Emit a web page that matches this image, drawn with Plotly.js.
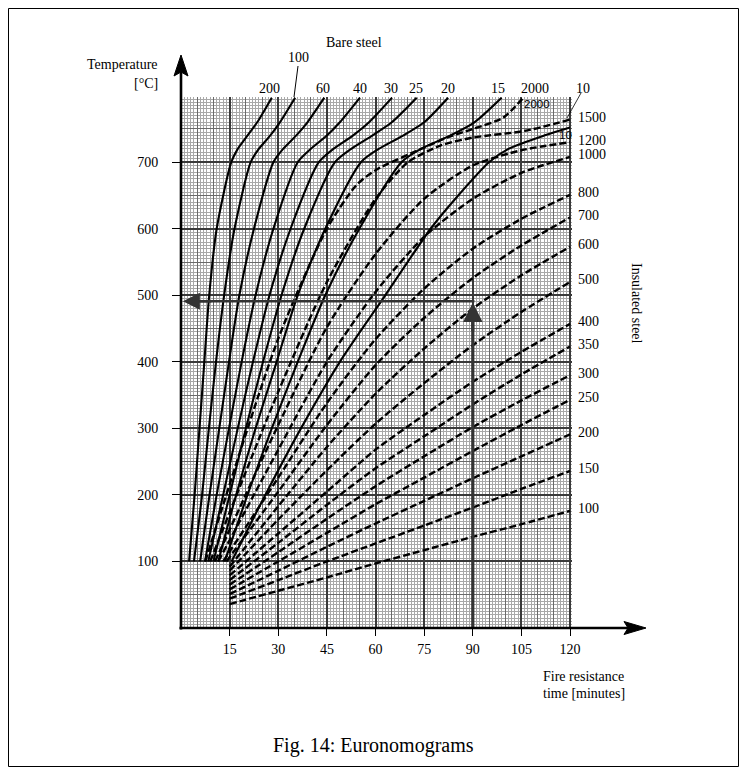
<!DOCTYPE html>
<html><head><meta charset="utf-8">
<script src="https://cdn.plot.ly/plotly-3.0.1.min.js"></script>
<style>html,body{margin:0;padding:0;background:#fff;} #chart{width:746px;height:774px;}</style>
</head><body><div id="chart"></div>
<script>
// ---------- DATA ----------
const xTickValues = [15, 30, 45, 60, 75, 90, 105, 120];
const yTickValues = [100, 200, 300, 400, 500, 600, 700];

// Bare steel (solid) curves: minutes at which each temperature level is reached
const bareFactors = ['200', '100', '60', '40', '30', '25', '20', '15'];
const bareTempLevels = [100, 200, 300, 400, 500, 600, 700, 720, 740, 760, 797];
const bare200Minutes = [2.5, 4.2, 5.7, 7.2, 8.7, 11.0, 15.5, 17.5, 20.5, 23.5, 28.0];
const bare100Minutes = [4.0, 6.5, 8.6, 10.8, 13.3, 16.5, 21.5, 24.0, 27.5, 30.5, 35.2];
const bare60Minutes  = [5.9, 8.8, 11.8, 14.8, 18.0, 22.5, 28.5, 31.5, 35.5, 39.0, 44.2];
const bare40Minutes  = [7.4, 11.0, 14.8, 18.7, 23.0, 28.5, 36.0, 40.0, 45.0, 49.0, 55.2];
const bare30Minutes  = [8.4, 13.0, 17.5, 22.2, 27.3, 33.8, 42.5, 47.0, 53.0, 58.0, 65.1];
const bare25Minutes  = [10.0, 15.0, 20.0, 25.3, 31.0, 38.0, 47.5, 52.5, 59.0, 65.0, 72.7];
const bare20Minutes  = [11.5, 17.0, 23.0, 29.5, 36.0, 44.5, 55.5, 61.0, 68.5, 75.0, 82.4];
const bare15Minutes  = [13.5, 20.5, 28.0, 36.0, 44.5, 55.0, 68.0, 74.0, 83.0, 90.5, 98.9];
const bare10Temps    = [100, 200, 300, 400, 500, 600, 650, 700, 720, 740, 752];
const bare10Minutes  = [15.6, 26.0, 37.0, 49.0, 63.0, 77.0, 85.5, 95.0, 101.0, 112.0, 120.0];

// Insulated steel (dashed) curves
const insulMinutes = [15, 30, 45, 60, 75, 90, 105, 120];
const insul100Temp = [36, 56, 76, 97, 117, 137, 156, 176];
const insul150Temp = [44, 72, 100, 127, 154, 181, 209, 236];
const insul200Temp = [51, 86, 122, 157, 191, 225, 258, 291];
const insul250Temp = [58, 100, 143, 186, 226, 266, 305, 343];
const insul300Temp = [65, 114, 164, 213, 258, 302, 342, 380];
const insul350Temp = [72, 128, 185, 240, 288, 336, 381, 423];
const insul400Temp = [79, 142, 205, 268, 320, 370, 415, 457];
const insul500Temp = [86, 163, 237, 307, 368, 425, 475, 520];
const insul600Temp = [92, 183, 272, 352, 420, 480, 530, 573];
const insul700Minutes = [14, 30, 45, 60, 75, 90, 105, 120];
const insul700Temp    = [100, 205, 305, 395, 466, 526, 575, 617];
const insul800Minutes = [13, 30, 45, 60, 75, 90, 105, 120];
const insul800Temp    = [100, 226, 338, 434, 510, 570, 615, 651];
const insul1000Minutes = [11.5, 30, 45, 60, 75, 90, 105, 120];
const insul1000Temp    = [100, 268, 400, 505, 588, 645, 684, 708];
const insul1200Minutes = [10.5, 30, 45, 60, 75, 90, 105, 120];
const insul1200Temp    = [100, 305, 452, 562, 645, 695, 718, 730];
const insul1500Minutes = [9, 30, 45, 60, 70, 80, 90, 106, 120];
const insul1500Temp    = [100, 355, 520, 645, 700, 725, 737, 747, 764];
const insul2000Minutes = [7.5, 30, 45, 54, 60, 75, 82, 90, 99.4, 105.6];
const insul2000Temp    = [100, 435, 600, 665, 688, 722, 737, 750, 767, 797];

const insulFactors = ['100','150','200','250','300','350','400','500','600','700','800','1000','1200','1500'];

// Worked example: 90 minutes -> 491 °C
const exampleMinutes = 90;
const exampleTemp = 491;

// ---------- LAYOUT HELPERS (pixel -> paper) ----------
const PL = 181, PR = 572, PT = 97, PB = 628;
const X = p => (p - PL) / (PR - PL);
const Y = p => (PB - p) / (PB - PT);
const XR = [0, 120.6], YR = [0, 798];

const serif = '"Liberation Serif", "Times New Roman", Times, serif';
const sans = '"Liberation Sans", Arial, sans-serif';

const traces = [];
traces.push({x: [], y: [], xaxis: 'x2', yaxis: 'y2', type: 'scatter', hoverinfo: 'skip', showlegend: false});
traces.push({x: [], y: [], xaxis: 'x3', yaxis: 'y3', type: 'scatter', hoverinfo: 'skip', showlegend: false});

const bareMinutes = [bare200Minutes, bare100Minutes, bare60Minutes, bare40Minutes, bare30Minutes, bare25Minutes, bare20Minutes, bare15Minutes];
bareMinutes.forEach(m => traces.push({
  x: m, y: bareTempLevels, type: 'scatter', mode: 'lines',
  line: {color: '#000', width: 2.1, shape: 'spline', smoothing: 0.7},
  hoverinfo: 'skip', showlegend: false
}));
traces.push({x: bare10Minutes, y: bare10Temps, type: 'scatter', mode: 'lines',
  line: {color: '#000', width: 2.1, shape: 'spline', smoothing: 0.7}, hoverinfo: 'skip', showlegend: false});

const insulSeries = [
  [insulMinutes, insul100Temp], [insulMinutes, insul150Temp], [insulMinutes, insul200Temp],
  [insulMinutes, insul250Temp], [insulMinutes, insul300Temp], [insulMinutes, insul350Temp],
  [insulMinutes, insul400Temp], [insulMinutes, insul500Temp], [insulMinutes, insul600Temp],
  [insul700Minutes, insul700Temp], [insul800Minutes, insul800Temp], [insul1000Minutes, insul1000Temp],
  [insul1200Minutes, insul1200Temp], [insul1500Minutes, insul1500Temp], [insul2000Minutes, insul2000Temp]
];
insulSeries.forEach(s => traces.push({
  x: s[0], y: s[1], type: 'scatter', mode: 'lines',
  line: {color: '#000', width: 2.4, dash: '7px,3px', shape: 'spline', smoothing: 0.7},
  hoverinfo: 'skip', showlegend: false
}));

traces.push({x: [exampleMinutes, exampleMinutes], y: [0, exampleTemp - 8], type: 'scatter', mode: 'lines',
  line: {color: '#333', width: 3.2}, hoverinfo: 'skip', showlegend: false});
traces.push({x: [exampleMinutes + 0.5, 2], y: [exampleTemp, exampleTemp], type: 'scatter', mode: 'lines',
  line: {color: '#333', width: 2.6}, hoverinfo: 'skip', showlegend: false});

// grid positions: fine (1 min / 5 °C), medium (5 min / 50 °C), major (15 min / 100 °C)
const fineX = [], fineY = [], midX = [], midY = [], majX = [], majY = [];
for (let v = 1; v <= 120; v++) { if (v % 15 === 0) majX.push(v); else if (v % 5 === 0) midX.push(v); else fineX.push(v); }
for (let v = 5; v <= 795; v += 5) { if (v % 100 === 0) majY.push(v); else if (v % 50 === 0) midY.push(v); else fineY.push(v); }

const annotations = [];
function txt(text, x, y, opts) {
  annotations.push(Object.assign({text: text, x: x, y: y, xref: 'paper', yref: 'paper', showarrow: false,
    font: {family: serif, size: 14, color: '#000'}, xanchor: 'center', yanchor: 'middle'}, opts || {}));
}
txt('Temperature', X(160), Y(64), {xanchor: 'right'});
txt('[°C]', X(160), Y(84), {xanchor: 'right'});
txt('Bare steel', X(354), Y(42));
txt('Fire resistance', X(541), Y(676), {xanchor: 'left'});
txt('time [minutes]', X(541), Y(693), {xanchor: 'left'});
txt('Insulated steel', X(637), Y(303), {textangle: 90});
txt('Fig. 14: Euronomograms', X(373), Y(745), {font: {family: serif, size: 20, color: '#000'}});

const topLabels = ['200', '60', '40', '30', '25', '20', '15', '2000', '10'];
const topLabelPx = [269, 323, 360, 391, 416, 448, 497.5, 535, 583];
topLabels.forEach((t, i) => txt(t, X(topLabelPx[i]), Y(88)));
txt('100', X(298), Y(58));
txt('2000', X(537), Y(104), {font: {family: sans, size: 11.5, color: '#000'}});
txt('10', X(565), Y(135), {font: {family: sans, size: 11.5, color: '#000'}});

const insulEnds = [insul100Temp, insul150Temp, insul200Temp, insul250Temp, insul300Temp, insul350Temp,
  insul400Temp, insul500Temp, insul600Temp, insul700Temp, insul800Temp, insul1000Temp, insul1200Temp, insul1500Temp];
insulFactors.forEach((f, i) => {
  const arr = insulEnds[i];
  annotations.push({text: f, x: X(576), xref: 'paper', y: arr[arr.length - 1] + 3, yref: 'y', showarrow: false,
    xanchor: 'left', yanchor: 'middle', font: {family: serif, size: 14, color: '#000'}});
});

annotations.push({x: exampleMinutes, y: exampleTemp - 2, xref: 'x', yref: 'y', text: '', showarrow: true,
  ax: 0, ay: 30, arrowhead: 2, arrowsize: 1.3, arrowwidth: 3, arrowcolor: '#333', standoff: 0});
annotations.push({x: 0.6, y: exampleTemp, xref: 'x', yref: 'y', text: '', showarrow: true,
  ax: 30, ay: 0, arrowhead: 2, arrowsize: 1.3, arrowwidth: 2.6, arrowcolor: '#333', standoff: 0});

const shapes = [
  {type: 'rect', xref: 'paper', yref: 'paper', x0: X(8.5), x1: X(738.5), y0: Y(766.5), y1: Y(8.5), line: {color: '#000', width: 1}},
  {type: 'line', xref: 'paper', yref: 'paper', x0: X(181), x1: X(181), y0: Y(629.5), y1: Y(70), line: {color: '#000', width: 2.6}},
  {type: 'line', xref: 'paper', yref: 'paper', x0: X(179.5), x1: X(630), y0: Y(628), y1: Y(628), line: {color: '#000', width: 2.6}},
  {type: 'path', xref: 'paper', yref: 'paper', path: `M ${X(181)} ${Y(55)} L ${X(174)} ${Y(76)} L ${X(181)} ${Y(72)} L ${X(188)} ${Y(76)} Z`, fillcolor: '#000', line: {color: '#000', width: 1}},
  {type: 'path', xref: 'paper', yref: 'paper', path: `M ${X(646)} ${Y(628)} L ${X(624)} ${Y(621.5)} L ${X(628)} ${Y(628)} L ${X(624)} ${Y(634.5)} Z`, fillcolor: '#000', line: {color: '#000', width: 1}},
  {type: 'line', xref: 'paper', yref: 'paper', x0: X(298), x1: X(294), y0: Y(66), y1: Y(97), line: {color: '#000', width: 1}},
  {type: 'line', xref: 'paper', yref: 'paper', x0: X(581), x1: X(567), y0: Y(93), y1: Y(118), line: {color: '#000', width: 0.8}}
];

const gridAxis = (vals, color, width, extra) => Object.assign({tickmode: 'array', tickvals: vals,
  showticklabels: false, ticks: '', showgrid: true, gridcolor: color, gridwidth: width,
  zeroline: false, showline: false, fixedrange: true}, extra);

const layout = {
  width: 746, height: 774,
  margin: {l: PL, r: 746 - PR, t: PT, b: 774 - PB, pad: 0},
  paper_bgcolor: '#fff', plot_bgcolor: '#fff', showlegend: false,
  font: {family: serif, size: 14, color: '#000'},
  xaxis: {range: XR, tickmode: 'array', tickvals: xTickValues, ticktext: xTickValues.map(String),
    ticks: 'outside', ticklen: 7, tickwidth: 1, tickcolor: '#000', ticklabelstandoff: 1,
    showgrid: false, zeroline: false, showline: false, fixedrange: true,
    minor: {tickmode: 'array', tickvals: fineX, showgrid: true, gridcolor: '#a8a8a8', gridwidth: 1, ticks: ''}},
  yaxis: {range: YR, tickmode: 'array', tickvals: yTickValues, ticktext: yTickValues.map(String),
    ticks: 'outside', ticklen: 8, tickwidth: 1, tickcolor: '#000', ticklabelstandoff: 11,
    showgrid: false, zeroline: false, showline: false, fixedrange: true,
    minor: {tickmode: 'array', tickvals: fineY, showgrid: true, gridcolor: '#a8a8a8', gridwidth: 1, ticks: ''}},
  xaxis2: gridAxis(midX, '#6a6a6a', 1, {overlaying: 'x', anchor: 'y', range: XR}),
  yaxis2: gridAxis(midY, '#6a6a6a', 1, {overlaying: 'y', anchor: 'x', range: YR}),
  xaxis3: gridAxis(majX, '#3a3a3a', 2, {overlaying: 'x', anchor: 'y', range: XR}),
  yaxis3: gridAxis(majY, '#3a3a3a', 2, {overlaying: 'y', anchor: 'x', range: YR}),
  annotations: annotations,
  shapes: shapes
};

Plotly.newPlot('chart', traces, layout, {staticPlot: true, displayModeBar: false});
</script></body></html>
